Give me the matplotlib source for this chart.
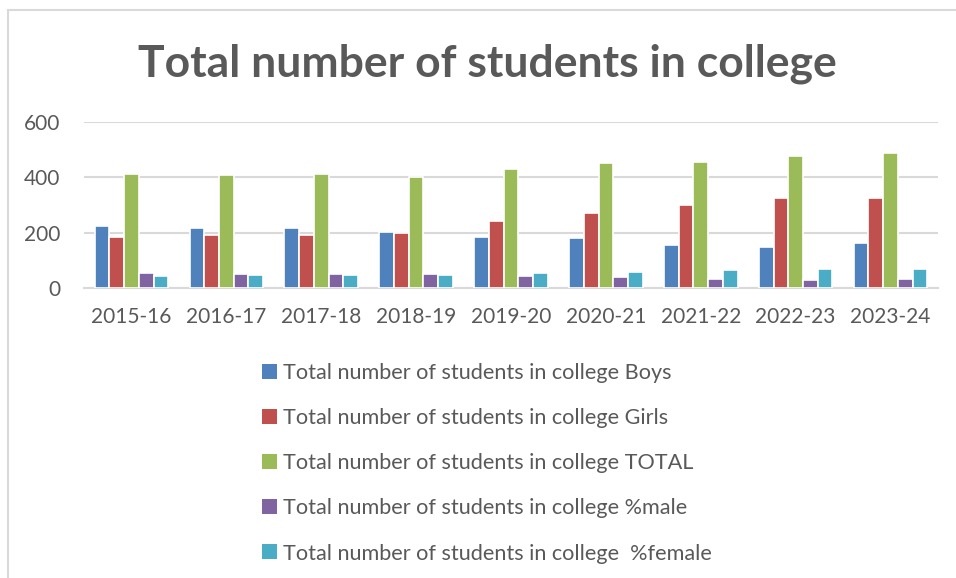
import numpy as np
import matplotlib.pyplot as plt
from matplotlib.patches import Patch, Rectangle

plt.rcParams['font.family'] = ['Lato', 'DejaVu Sans']

years = ["2015-16", "2016-17", "2017-18", "2018-19", "2019-20",
         "2020-21", "2021-22", "2022-23", "2023-24"]
boys = [225, 216, 217, 202, 185, 181, 155, 150, 161]
girls = [184, 193, 193, 199, 242, 272, 299, 326, 325]
total = [411, 408, 411, 402, 430, 453, 456, 478, 487]
pct_male = [55, 52, 52, 50, 42, 39, 34, 30, 34]
pct_female = [45, 46, 46, 48, 56, 59, 64, 68, 67]

series_labels = [
    "Total number of students in college Boys",
    "Total number of students in college Girls",
    "Total number of students in college TOTAL",
    "Total number of students in college %male",
    "Total number of students in college  %female",
]
colors = ["#4F81BD", "#C0504D", "#9BBB59", "#8064A2", "#4BACC6"]
text_color = "#595959"
grid_color = "#D9D9D9"

W, H = 956, 578
fig = plt.figure(figsize=(W / 100, H / 100), dpi=100)

# chart area border (top and left edges visible)
fig.add_artist(Rectangle((8 / W, -0.1), 1.2, 1 - 10 / H + 0.1, transform=fig.transFigure,
                         fill=False, edgecolor=grid_color, linewidth=1.5))

ax = fig.add_axes([84 / W, 1 - 288 / H, (938 - 84) / W, (288 - 122) / H])

x = np.arange(len(years))
slot = 0.155
all_series = [boys, girls, total, pct_male, pct_female]
for i, (vals, c) in enumerate(zip(all_series, colors)):
    ax.bar(x + (i - 2) * slot, vals, width=slot, color=c,
           edgecolor="white", linewidth=1.2, zorder=3)

ax.set_xlim(-0.5, len(years) - 0.5)
ax.set_ylim(0, 600)
ax.set_yticks([0, 200, 400, 600])
ax.yaxis.grid(True, color=grid_color, linewidth=1.5, zorder=0)
ax.set_axisbelow(True)
for s in ["top", "right", "left"]:
    ax.spines[s].set_visible(False)
ax.spines["bottom"].set_color(grid_color)
ax.spines["bottom"].set_linewidth(1.5)
ax.set_xticks(x)
ax.set_xticklabels(years)
ax.tick_params(axis="both", length=0, labelsize=15, colors=text_color)
ax.tick_params(axis="x", pad=14)
ax.tick_params(axis="y", pad=17)

fig.text(487 / W, 1 - 77 / H, "Total number of students in college",
         ha="center", va="baseline", fontsize=32, fontweight="bold", color=text_color)

handles = [Patch(facecolor=c, edgecolor="none") for c in colors]
fig.legend(handles, series_labels, loc="upper left",
           bbox_to_anchor=(262 / W, 1 - 363 / H), frameon=False,
           fontsize=15.6, labelcolor=text_color, borderpad=0, borderaxespad=0,
           handlelength=0.68, handleheight=0.68, handletextpad=0.3, labelspacing=1.16)

fig.savefig("out.png", dpi=100, facecolor="white")
